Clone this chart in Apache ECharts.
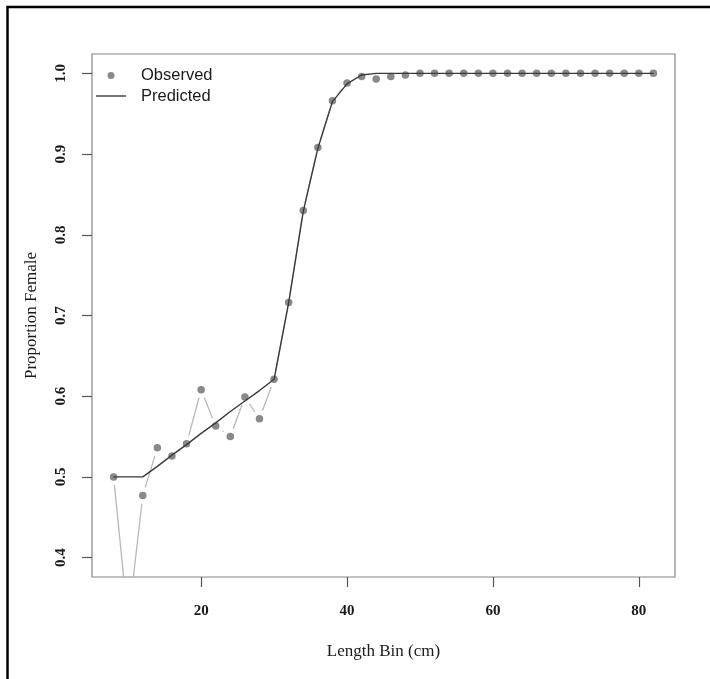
<!DOCTYPE html>
<html>
<head>
<meta charset="utf-8">
<style>
  html, body { margin: 0; padding: 0; background: #fff; }
  #chart { width: 710px; height: 679px; }
</style>
<script src="https://cdn.jsdelivr.net/npm/echarts@6/dist/echarts.min.js"></script>
</head>
<body>
<div id="chart"></div>
<script>
// Length bins (cm)
const lengthBins = [8, 10, 12, 14, 16, 18, 20, 22, 24, 26, 28, 30, 32, 34, 36, 38, 40, 42, 44, 46, 48,
  50, 52, 54, 56, 58, 60, 62, 64, 66, 68, 70, 72, 74, 76, 78, 80, 82];
// Observed proportion female
const observed = [0.500, 0.320, 0.477, 0.536, 0.526, 0.541, 0.608, 0.563, 0.550, 0.599, 0.572, 0.621,
  0.716, 0.830, 0.908, 0.966, 0.988, 0.996, 0.993, 0.996, 0.998,
  1.000, 1.000, 1.000, 1.000, 1.000, 1.000, 1.000, 1.000, 1.000, 1.000, 1.000, 1.000, 1.000, 1.000, 1.000, 1.000, 1.000];
// Predicted proportion female
const predicted = [0.500, 0.500, 0.500, 0.513, 0.527, 0.540, 0.554, 0.567, 0.581, 0.594, 0.607, 0.621,
  0.716, 0.829, 0.907, 0.965, 0.987, 0.998, 1.000, 1.000, 1.000,
  1.000, 1.000, 1.000, 1.000, 1.000, 1.000, 1.000, 1.000, 1.000, 1.000, 1.000, 1.000, 1.000, 1.000, 1.000, 1.000, 1.000];
// Tick labels
const xTicks = [20, 40, 60, 80];
const yTicks = [0.4, 0.5, 0.6, 0.7, 0.8, 0.9, 1.0];

const obsPairs = lengthBins.map((x, i) => [x, observed[i]]);
const predPairs = lengthBins.map((x, i) => [x, predicted[i]]);

const chart = echarts.init(document.getElementById('chart'), null, { renderer: 'canvas' });
const serif = '"Liberation Serif", "DejaVu Serif", serif';
const sans = '"Liberation Sans", Arial, sans-serif';

chart.setOption({
  animation: false,
  backgroundColor: '#ffffff',
  grid: {
    left: 92, right: 35, top: 54, bottom: 102,
    show: true, borderColor: '#858585', borderWidth: 1.2, backgroundColor: 'transparent'
  },
  legend: {
    orient: 'vertical',
    left: 91, top: 62,
    itemWidth: 30, itemHeight: 7, itemGap: 3.5,
    data: [
      { name: 'Observed', icon: 'circle' },
      { name: 'Predicted', icon: 'path://M0,0 L30,0 L30,1.4 L0,1.4 Z' }
    ],
    textStyle: { fontFamily: sans, fontSize: 16.5, color: '#1a1a1a', padding: [0, 0, 0, 10] }
  },
  xAxis: {
    type: 'value', min: 5.04, max: 84.96,
    name: 'Length Bin (cm)', nameLocation: 'middle', nameGap: 66,
    nameTextStyle: { fontFamily: serif, fontSize: 17, color: '#1a1a1a' },
    axisLine: { show: false },
    splitLine: { show: false },
    axisTick: { show: true, customValues: xTicks, length: 10, lineStyle: { color: '#555', width: 1.2 } },
    axisLabel: { customValues: xTicks, margin: 27, fontFamily: serif, fontWeight: 'bold', fontSize: 15, color: '#1a1a1a' }
  },
  yAxis: {
    type: 'value', min: 0.376, max: 1.024,
    name: 'Proportion Female', nameLocation: 'middle', nameGap: 52, nameRotate: 90,
    nameTextStyle: { fontFamily: serif, fontSize: 17, color: '#1a1a1a' },
    axisLine: { show: false },
    splitLine: { show: false },
    axisTick: { show: true, customValues: yTicks, length: 10, lineStyle: { color: '#555', width: 1.2 } },
    axisLabel: {
      customValues: yTicks, rotate: 90, margin: 23,
      fontFamily: serif, fontWeight: 'bold', fontSize: 15, color: '#1a1a1a',
      formatter: v => v.toFixed(1)
    }
  },
  series: [
    {
      name: 'obsConnector', type: 'line', data: obsPairs, z: 2, silent: true,
      symbol: 'circle', symbolSize: 17, showSymbol: true, showAllSymbol: true,
      itemStyle: { color: '#ffffff', borderWidth: 0 },
      lineStyle: { color: '#b8b8b8', width: 1.3 },
      clip: true, legendHoverLink: false
    },
    {
      name: 'Observed', type: 'scatter', data: obsPairs, z: 3, silent: true,
      symbol: 'circle', symbolSize: 7.5,
      itemStyle: { color: '#6c6c6c' },
      clip: true
    },
    {
      name: 'Predicted', type: 'line', data: predPairs, z: 4, silent: true,
      symbol: 'none', showSymbol: false,
      itemStyle: { color: '#3a3a3a' },
      lineStyle: { color: '#3a3a3a', width: 1.4 },
      clip: true
    }
  ],
  graphic: [
    { type: 'polyline', shape: { points: [[7.5, 679], [7.5, 7], [710, 7]] }, style: { stroke: '#000', lineWidth: 2.5, fill: null }, silent: true }
  ]
});
</script>
</body>
</html>
